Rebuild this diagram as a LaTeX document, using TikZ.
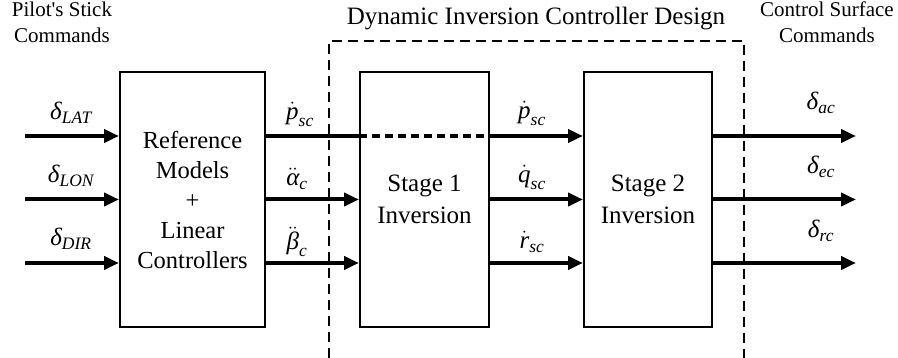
\documentclass[tikz,border=0pt]{standalone}
\usepackage{amsmath}
\usepackage{fontspec}
\setmainfont{Liberation Serif}
\usetikzlibrary{arrows.meta}
% italic letters taken from the text font, usable inside math
\newcommand{\vi}[1]{\text{\itshape #1}}

\begin{document}
\begin{tikzpicture}[x=1pt,y=-1pt,
  block/.style={draw,line width=2pt,minimum height=255pt,align=center,inner sep=0pt},
  sig/.style={line width=4pt,-{Triangle[length=15pt,width=13pt]}},
  wire/.style={line width=4pt},
  dashwire/.style={line width=4pt,dash pattern=on 8pt off 5pt},
  frame/.style={line width=2pt,dash pattern=on 10pt off 6pt},
  sig label/.style={anchor=base,font=\fontsize{25}{28}\selectfont,inner sep=0pt},
  note/.style={align=center,font=\fontsize{21}{26}\selectfont,inner sep=0pt}]
\useasboundingbox (0,0) rectangle (898,358);

% signal rows
\coordinate (r1) at (0,136);
\coordinate (r2) at (0,199.5);
\coordinate (r3) at (0,263);

% blocks
\node[block,minimum width=145pt,font=\fontsize{24.5}{30}\selectfont] (b1) at (192.5,199.5)
  {Reference\\Models\\+\\Linear\\Controllers};
\node[block,minimum width=129pt,font=\fontsize{25}{32}\selectfont] (b2) at (424.5,199.5)
  {Stage 1\\Inversion};
\node[block,minimum width=128pt,font=\fontsize{25}{32}\selectfont] (b3) at (648,199.5)
  {Stage 2\\Inversion};

% dashed frame around the dynamic inversion part (open at the bottom)
\coordinate (fbl) at (329,358);
\coordinate (ftl) at (329,41);
\coordinate (ftr) at (744,41);
\coordinate (fbr) at (744,358);
\draw[frame] (fbl) -- (ftl) -- (ftr) -- (fbr);
\node[anchor=base,inner sep=0pt,font=\fontsize{25}{30}\selectfont] (title) at (536,25)
  {Dynamic Inversion Controller Design};

% side captions
\node[note,anchor=base] (pilot) at (62,43) {Pilot\textquotesingle s Stick\\Commands};
\node[note,anchor=base] (surf) at (827,43) {Control Surface\\Commands};

% stick inputs
\coordinate (i1) at (25,136);
\coordinate (i2) at (25,199.5);
\coordinate (i3) at (25,263);
\draw[sig] (i1) -- (i1 -| b1.west);
\draw[sig] (i2) -- (i2 -| b1.west);
\draw[sig] (i3) -- (i3 -| b1.west);
\node[sig label] (lat) at (71,120) {$\vi{δ}_{\vi{LAT}}$};
\node[sig label] (lon) at (71,183) {$\vi{δ}_{\vi{LON}}$};
\node[sig label] (dir) at (71,246) {$\vi{δ}_{\vi{DIR}}$};

% reference model outputs
\draw[wire] (b1.east |- r1) -- (b2.west |- r1);
\draw[dashwire] (b2.west |- r1) -- (b2.east |- r1);
\draw[sig] (b1.east |- r2) -- (b2.west |- r2);
\draw[sig] (b1.east |- r3) -- (b2.west |- r3);
\node[sig label] (pc) at (300,120) {$\dot{\vi{p}}_{\vi{sc}}$};
\node[sig label] (ac) at (297,186) {$\ddot{\vi{α}}_{\vi{c}}$};
\node[sig label] (bc) at (297,250) {$\ddot{\vi{β}}_{\vi{c}}$};

% stage 1 to stage 2
\draw[sig] (b2.east |- r1) -- (b3.west |- r1);
\draw[sig] (b2.east |- r2) -- (b3.west |- r2);
\draw[sig] (b2.east |- r3) -- (b3.west |- r3);
\node[sig label] (ps) at (532,119) {$\dot{\vi{p}}_{\vi{sc}}$};
\node[sig label] (qs) at (532,183) {$\dot{\vi{q}}_{\vi{sc}}$};
\node[sig label] (rs) at (532,249) {$\dot{\vi{r}}_{\vi{sc}}$};

% surface commands
\coordinate (o1) at (856,136);
\coordinate (o2) at (856,199.5);
\coordinate (o3) at (856,263);
\draw[sig] (b3.east |- r1) -- (o1);
\draw[sig] (b3.east |- r2) -- (o2);
\draw[sig] (b3.east |- r3) -- (o3);
\node[sig label] (dac) at (821,110) {$\vi{δ}_{\vi{ac}}$};
\node[sig label] (dec) at (821,174) {$\vi{δ}_{\vi{ec}}$};
\node[sig label] (drc) at (821,238) {$\vi{δ}_{\vi{rc}}$};
\end{tikzpicture}
\end{document}
